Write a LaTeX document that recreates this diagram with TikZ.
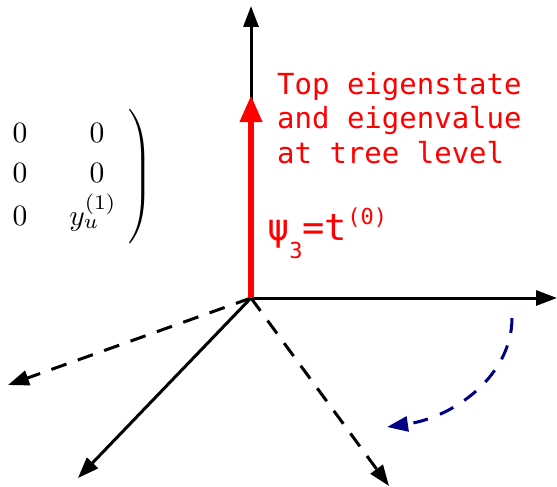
\documentclass[tikz,border=0pt]{standalone}
\usepackage{fontspec}
\usetikzlibrary{arrows.meta}
\newfontfamily\redmono{DejaVu Sans Mono}
\definecolor{navyarrow}{RGB}{0,0,130}
\begin{document}
\begin{tikzpicture}[x=1pt,y=-1pt,
  axis/.style={line width=3pt,-{Triangle[length=21pt,width=15pt]}},
  dashaxis/.style={axis,dash pattern=on 16pt off 12pt},
  redarrow/.style={red,line width=6.5pt,-{Triangle[length=27pt,width=21pt]}},
  turn/.style={navyarrow,line width=3pt,dash pattern=on 15pt off 13pt,-{Triangle[length=21pt,width=15pt]}},
  ent/.style={inner sep=0pt,anchor=base},
  redtxt/.style={inner sep=0pt,anchor=base west,text=red,font=\redmono\fontsize{29}{34}\selectfont}]
\useasboundingbox (0,0) rectangle (557,487);
% axes
\coordinate (O) at (251,298);
\coordinate (top) at (251,6);
\coordinate (right) at (557,298);
\coordinate (left) at (8,385);
\coordinate (ll) at (78,478);
\coordinate (lr) at (389,486);
\coordinate (redtip) at (251,95);
\coordinate (cs) at (512,318);
\coordinate (ce) at (387,427);
\draw[axis] (O) -- (top);
\draw[axis] (O) -- (right);
\draw[axis] (O) -- (ll);
\draw[dashaxis] (O) -- (left);
\draw[dashaxis] (O) -- (lr);
\draw[redarrow] (O) -- (redtip);
\draw[turn] (cs) .. controls (512,375) and (455,417) .. (ce);
% red text
\node[redtxt] (l1) at (277,94) {Top eigenstate};
\node[redtxt] (l2) at (277,128.5) {and eigenvalue};
\node[redtxt] (l3) at (277,163) {at tree level};
\node[inner sep=0pt,anchor=base west,text=red,font=\redmono] (psi) at (267,240)
  {\fontsize{37}{40}\selectfont ψ\raisebox{-18pt}{\fontsize{22}{24}\selectfont 3}=t\raisebox{16pt}{\fontsize{22}{24}\selectfont (0)}};
% matrix fragment
\node[ent] (m11) at (20,142) {\scalebox{2.95}{$0$}};
\node[ent] (m12) at (97,142) {\scalebox{2.95}{$0$}};
\node[ent] (m21) at (20,182) {\scalebox{2.95}{$0$}};
\node[ent] (m22) at (97,182) {\scalebox{2.95}{$0$}};
\node[ent] (m31) at (20,225) {\scalebox{2.95}{$0$}};
\node[ent] (m32) at (93,225) {\scalebox{2.95}{$y_u^{(1)}$}};
\node[inner sep=0pt] (paren) at (139,178) {\scalebox{2.8}{$\left.\rule[-22.5pt]{0pt}{45pt}\right)$}};
\end{tikzpicture}
\end{document}
